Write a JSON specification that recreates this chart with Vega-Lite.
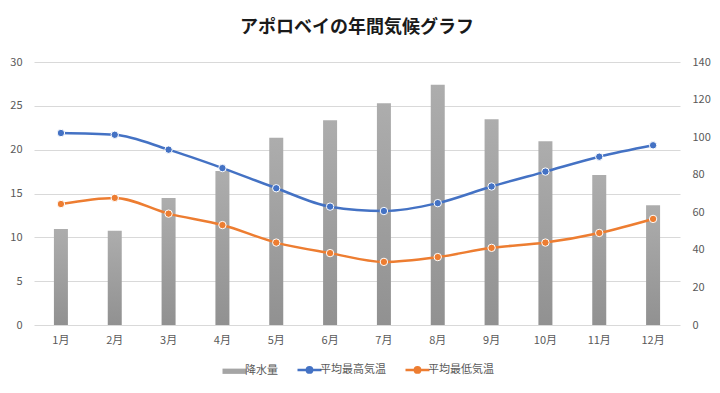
{
  "$schema": "https://vega.github.io/schema/vega-lite/v6.json",
  "autosize": "none",
  "width": 646,
  "height": 263,
  "padding": {"left": 34, "top": 62, "right": 40, "bottom": 68},
  "background": "white",
  "config": {
    "font": "Noto Sans CJK JP",
    "view": {"stroke": null},
    "axis": {"labelFont": "Noto Sans CJK JP", "labelFontSize": 11, "labelColor": "#595959", "domain": false, "ticks": false, "title": null, "gridColor": "#d9d9d9", "gridWidth": 1}
  },
  "title": {"text": "アポロベイの年間気候グラフ", "fontSize": 18, "fontWeight": "bold", "color": "#1a1a1a", "font": "Noto Sans CJK JP", "anchor": "middle", "offset": 19},
  "data": {"values": [
    {"month": "1月", "series": "降水量", "value": 51.1},
    {"month": "2月", "series": "降水量", "value": 50.2},
    {"month": "3月", "series": "降水量", "value": 67.6},
    {"month": "4月", "series": "降水量", "value": 82.0},
    {"month": "5月", "series": "降水量", "value": 99.7},
    {"month": "6月", "series": "降水量", "value": 109.0},
    {"month": "7月", "series": "降水量", "value": 118.0},
    {"month": "8月", "series": "降水量", "value": 127.9},
    {"month": "9月", "series": "降水量", "value": 109.5},
    {"month": "10月", "series": "降水量", "value": 97.8},
    {"month": "11月", "series": "降水量", "value": 79.8},
    {"month": "12月", "series": "降水量", "value": 63.7},
    {"month": "1月", "series": "平均最高気温", "value": 21.9},
    {"month": "2月", "series": "平均最高気温", "value": 21.7},
    {"month": "3月", "series": "平均最高気温", "value": 20.0},
    {"month": "4月", "series": "平均最高気温", "value": 17.9},
    {"month": "5月", "series": "平均最高気温", "value": 15.6},
    {"month": "6月", "series": "平均最高気温", "value": 13.5},
    {"month": "7月", "series": "平均最高気温", "value": 13.0},
    {"month": "8月", "series": "平均最高気温", "value": 13.9},
    {"month": "9月", "series": "平均最高気温", "value": 15.8},
    {"month": "10月", "series": "平均最高気温", "value": 17.5},
    {"month": "11月", "series": "平均最高気温", "value": 19.2},
    {"month": "12月", "series": "平均最高気温", "value": 20.5},
    {"month": "1月", "series": "平均最低気温", "value": 13.8},
    {"month": "2月", "series": "平均最低気温", "value": 14.5},
    {"month": "3月", "series": "平均最低気温", "value": 12.7},
    {"month": "4月", "series": "平均最低気温", "value": 11.4},
    {"month": "5月", "series": "平均最低気温", "value": 9.4},
    {"month": "6月", "series": "平均最低気温", "value": 8.2},
    {"month": "7月", "series": "平均最低気温", "value": 7.2},
    {"month": "8月", "series": "平均最低気温", "value": 7.75},
    {"month": "9月", "series": "平均最低気温", "value": 8.8},
    {"month": "10月", "series": "平均最低気温", "value": 9.4},
    {"month": "11月", "series": "平均最低気温", "value": 10.5},
    {"month": "12月", "series": "平均最低気温", "value": 12.1}
  ]},
  "encoding": {
    "x": {"field": "month", "type": "nominal", "sort": null, "scale": {"paddingInner": 0, "paddingOuter": 0}, "axis": {"labelAngle": 0, "labelPadding": 9, "grid": false}}
  },
  "layer": [
    {
      "transform": [{"filter": "datum.series == '降水量'"}],
      "mark": {"type": "bar", "width": 14, "color": {"gradient": "linear", "x1": 0, "y1": 0, "x2": 0, "y2": 1, "stops": [{"offset": 0, "color": "#adadad"}, {"offset": 1, "color": "#919191"}]}},
      "encoding": {
        "y": {"field": "value", "type": "quantitative", "scale": {"domain": [0, 140]}, "axis": {"orient": "right", "values": [0, 20, 40, 60, 80, 100, 120, 140], "grid": false, "labelPadding": 12}}
      }
    },
    {
      "transform": [{"filter": "datum.series != '降水量'"}],
      "encoding": {
        "y": {"field": "value", "type": "quantitative", "scale": {"domain": [0, 30]}, "axis": {"orient": "left", "values": [0, 5, 10, 15, 20, 25, 30], "grid": true, "labelPadding": 12}},
        "color": {"field": "series", "type": "nominal", "scale": {"domain": ["降水量", "平均最高気温", "平均最低気温"], "range": ["#a5a5a5", "#4472c4", "#ed7d31"]},
          "legend": {"title": null, "orient": "none", "legendX": 195, "legendY": 302, "direction": "horizontal", "labelFont": "Noto Sans CJK JP", "labelFontSize": 11, "labelColor": "#595959", "symbolSize": 576, "columnPadding": 14, "labelOffset": 5,
            "encode": {"symbols": {"update": {
              "shape": {"signal": "datum.value == '降水量' ? 'M-1,-0.22H1V0.22H-1Z' : 'M-1,0H1M0.22,0A0.22,0.22 0 1,1 -0.22,0A0.22,0.22 0 1,1 0.22,0'"},
              "fill": {"signal": "scale('color', datum.value)"},
              "stroke": {"signal": "scale('color', datum.value)"},
              "strokeWidth": {"signal": "datum.value == '降水量' ? 0 : 2.5"},
              "opacity": {"value": 1},
              "fillOpacity": {"value": 1},
              "strokeOpacity": {"value": 1}
            }}}}}
      },
      "layer": [
        {"mark": {"type": "line", "strokeWidth": 2.5, "interpolate": "monotone"}},
        {"mark": {"type": "point", "filled": true, "size": 55, "stroke": "white", "strokeWidth": 1, "opacity": 1}}
      ]
    }
  ],
  "resolve": {"scale": {"y": "independent"}}
}
